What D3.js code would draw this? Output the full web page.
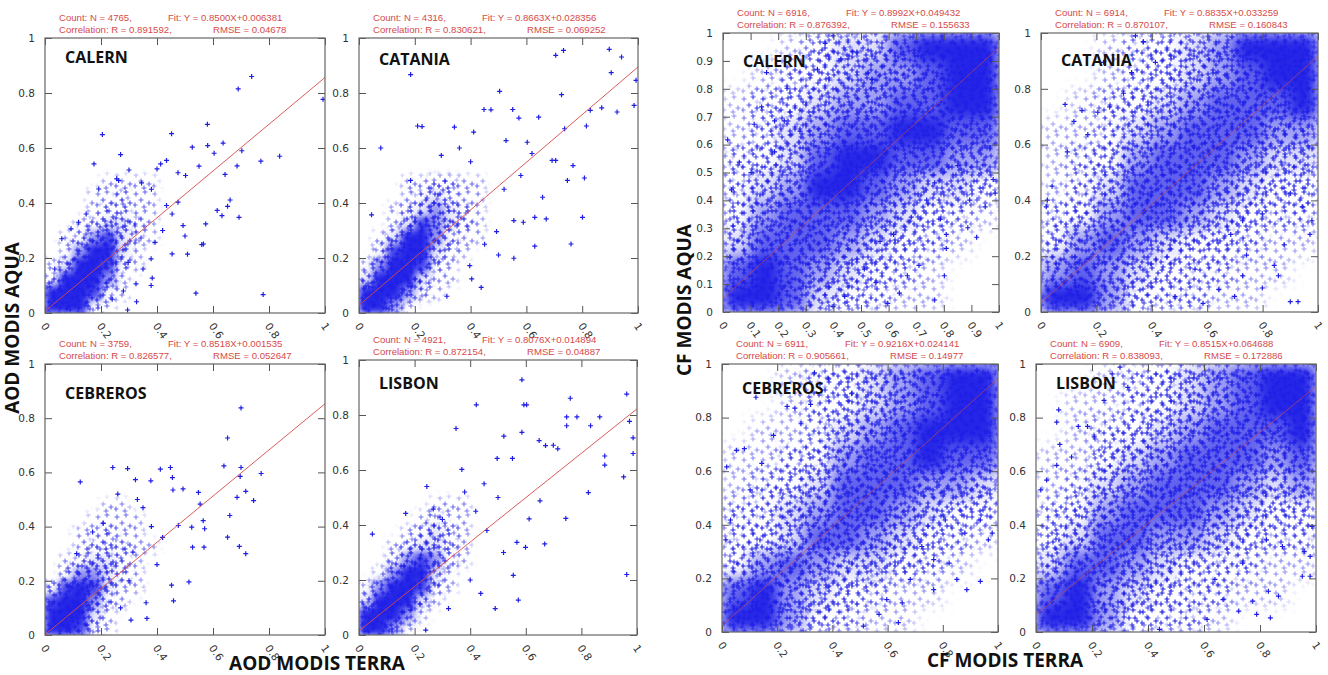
<!DOCTYPE html>
<html>
<head>
<meta charset="utf-8">
<script src="https://cdn.jsdelivr.net/npm/d3@7"></script>
<style>
  body { margin: 0; background: #fff; }
  svg { display: block; }
</style>
</head>
<body>
<div id="chart"></div>
<script>
// values
var sites = ["CALERN", "CATANIA", "CEBREROS", "LISBON"];

var aodCount = [4765, 4316, 3759, 4921];
var aodSlope = [0.8500, 0.8663, 0.8518, 0.8076];
var aodIntercept = [0.006381, 0.028356, 0.001535, 0.014894];
var aodR = ["0.891592", "0.830621", "0.826577", "0.872154"];
var aodRmse = ["0.04678", "0.069252", "0.052647", "0.04887"];

var cfCount = [6916, 6914, 6911, 6909];
var cfSlope = [0.8992, 0.8835, 0.9216, 0.8515];
var cfIntercept = [0.049432, 0.033259, 0.024141, 0.064688];
var cfR = ["0.876392", "0.870107", "0.905661", "0.838093"];
var cfRmse = ["0.155633", "0.160843", "0.14977", "0.172886"];

var ticksCoarse = [0, 0.2, 0.4, 0.6, 0.8, 1];
var ticksFine = [0, 0.1, 0.2, 0.3, 0.4, 0.5, 0.6, 0.7, 0.8, 0.9, 1];

// how crowded the cloud is (0-9), rows from the top
// AOD grids cover [0,0.5] x [0,0.5], CF grids cover [0,1] x [0,1]
var aodCalernDens = ["0000111100","0001121100","0001221100","0012332100","0124532100",
                     "0146631000","1378521000","2698410000","6995210000","9962100000"];
var aodCataniaDens = ["0001122110","0001232110","0012343210","0013543210","0136642110",
                      "0257632100","1487521000","3797311000","7984210000","8841000000"];
var aodCebrerosDens = ["0000110000","0001111000","0011211000","0012221100","0123321000",
                       "0244321000","2565311000","5874210000","8973100000","9952100000"];
var aodLisbonDens = ["0000011100","0000121100","0001232100","0012332100","0024542100",
                     "0147631000","1488521000","3897310000","8984100000","9841000000"];

var cfCalernDens = ["0013446789","0123455679","1234556678","1245667766","2346776655",
                    "2457765443","3566654321","4666543210","6765432100","9864321100"];
var cfCataniaDens = ["0012345789","0012345678","0123456667","1124566655","1235666544",
                     "1246665433","2356654322","3565433211","5654322110","9753221100"];
var cfCebrerosDens = ["0012345689","0012345689","0112456778","1123566766","1234666554",
                      "2245665433","2346654321","3565443210","6754321100","9853211000"];
var cfLisbonDens = ["0012345689","0112345678","0123456667","1134566656","1245666545",
                    "2356665433","3466554322","4665432211","6754322110","9753221000"];

// single crosses readable outside the crowded cloud, [terra, aqua]
var aodCalernPts = [[0.738,0.86],[0.69,0.815],[0.993,0.777],[0.205,0.649],[0.452,0.652],[0.58,0.686],
  [0.175,0.542],[0.27,0.576],[0.526,0.603],[0.581,0.609],[0.636,0.618],[0.604,0.581],[0.703,0.59],
  [0.771,0.552],[0.838,0.57],[0.686,0.535],[0.643,0.504],[0.192,0.451],[0.475,0.51],[0.55,0.534],
  [0.661,0.411],[0.652,0.388],[0.615,0.373],[0.632,0.354],[0.693,0.348],[0.574,0.324],[0.566,0.251],
  [0.56,0.249],[0.509,0.214],[0.454,0.215],[0.539,0.072],[0.779,0.067],[0.295,0.011],[0.327,0.041],
  [0.383,0.127],[0.379,0.1],[0.147,0.36],[0.263,0.482],[0.297,0.184],[0.493,0.318],[0.5,0.28],
  [0.035,0.16],[0.093,0.306],[0.256,0.488],[0.345,0.473],[0.413,0.542],[0.434,0.555],[0.4,0.524],
  [0.502,0.5],[0.475,0.403],[0.434,0.391],[0.454,0.36],[0.393,0.257],[0.379,0.197],[0.325,0.106],
  [0.06,0.27],[0.12,0.33],[0.3,0.52],[0.38,0.45],[0.42,0.3],[0.35,0.16],[0.28,0.08],[0.24,0.05]];
var aodCataniaPts = [[0.185,0.867],[0.705,0.937],[0.733,0.955],[0.897,0.959],[0.941,0.931],[0.904,0.874],
  [0.993,0.846],[0.726,0.794],[0.504,0.806],[0.986,0.755],[0.925,0.731],[0.87,0.746],[0.829,0.737],
  [0.448,0.74],[0.473,0.739],[0.551,0.74],[0.815,0.68],[0.737,0.67],[0.644,0.712],[0.573,0.709],
  [0.21,0.68],[0.226,0.678],[0.078,0.6],[0.342,0.676],[0.767,0.536],[0.747,0.482],[0.808,0.491],
  [0.801,0.348],[0.76,0.251],[0.63,0.243],[0.555,0.199],[0.438,0.093],[0.315,0.061],[0.671,0.342],
  [0.63,0.348],[0.692,0.555],[0.705,0.555],[0.658,0.421],[0.589,0.33],[0.555,0.336],[0.493,0.296],
  [0.045,0.357],[0.185,0.482],[0.295,0.573],[0.411,0.658],[0.603,0.621],[0.527,0.627],[0.404,0.124],
  [0.5,0.211],[0.397,0.172],[0.36,0.6],[0.4,0.55],[0.58,0.5],[0.52,0.45],[0.45,0.25],[0.62,0.58]];
var aodCebrerosPts = [[0.70,0.838],[0.652,0.727],[0.126,0.565],[0.242,0.618],[0.295,0.614],[0.412,0.612],
  [0.448,0.618],[0.323,0.573],[0.26,0.52],[0.378,0.569],[0.455,0.581],[0.493,0.539],[0.457,0.535],
  [0.548,0.526],[0.639,0.624],[0.7,0.618],[0.772,0.596],[0.697,0.585],[0.717,0.53],[0.745,0.496],
  [0.686,0.508],[0.554,0.483],[0.66,0.441],[0.565,0.422],[0.524,0.398],[0.57,0.392],[0.476,0.404],
  [0.652,0.361],[0.694,0.327],[0.717,0.3],[0.568,0.324],[0.527,0.324],[0.452,0.184],[0.514,0.196],
  [0.459,0.126],[0.361,0.119],[0.364,0.061],[0.307,0.055],[0.113,0.3],[0.208,0.412],[0.314,0.306],
  [0.35,0.47],[0.38,0.4],[0.42,0.36],[0.4,0.26],[0.3,0.2],[0.27,0.1],[0.17,0.38],[0.33,0.5]];
var aodLisbonPts = [[0.586,0.928],[0.593,0.837],[0.603,0.837],[0.422,0.837],[0.76,0.861],[0.963,0.876],
  [0.784,0.793],[0.747,0.793],[0.866,0.793],[0.747,0.761],[0.833,0.761],[0.973,0.777],[0.986,0.717],
  [0.986,0.66],[0.884,0.651],[0.884,0.618],[0.952,0.575],[0.349,0.751],[0.521,0.723],[0.586,0.737],
  [0.648,0.707],[0.671,0.689],[0.699,0.69],[0.715,0.677],[0.497,0.642],[0.552,0.642],[0.37,0.602],
  [0.244,0.54],[0.825,0.518],[0.744,0.424],[0.668,0.331],[0.963,0.22],[0.573,0.127],[0.49,0.096],
  [0.048,0.367],[0.168,0.442],[0.267,0.458],[0.651,0.488],[0.612,0.422],[0.599,0.319],[0.568,0.337],
  [0.438,0.151],[0.555,0.217],[0.322,0.096],[0.24,0.018],[0.45,0.55],[0.5,0.5],[0.42,0.45],
  [0.46,0.38],[0.38,0.52],[0.3,0.42],[0.52,0.3],[0.4,0.2]];

var cfCalernPts = [[0.158,0.858],[0.232,0.802],[0.14,0.735],[0.113,0.673],[0.187,0.685],[0.222,0.685],
  [0.059,0.537],[0.017,0.617],[0.031,0.438],[0.37,0.963],[0.399,0.99],[0.342,0.87],[0.427,0.907],
  [0.279,0.648],[0.187,0.574],[0.102,0.5],[0.54,0.833],[0.47,0.932],[0.887,0.302],[0.919,0.268],
  [0.809,0.278],[0.788,0.333],[0.809,0.228],[0.802,0.13],[0.767,0.043],[0.71,0.167],[0.668,0.13],
  [0.639,0.068],[0.597,0.031],[0.986,0.426],[0.979,0.475],[0.894,0.401],[0.95,0.377],[0.738,0.401],
  [0.682,0.34],[0.569,0.253],[0.512,0.154],[0.441,0.056],[0.399,0.019],[0.851,0.525],[0.767,0.463],
  [0.618,0.278],[0.554,0.105]];
var cfCataniaPts = [[0.087,0.744],[0.119,0.683],[0.148,0.722],[0.095,0.574],[0.023,0.401],[0.04,0.451],
  [0.019,0.377],[0.248,0.735],[0.205,0.716],[0.298,0.784],[0.341,0.99],[0.37,0.969],[0.413,0.895],
  [0.169,0.636],[0.226,0.895],[0.327,0.858],[0.9,0.037],[0.928,0.037],[0.971,0.278],[0.978,0.327],
  [0.842,0.167],[0.799,0.086],[0.857,0.13],[0.742,0.204],[0.728,0.13],[0.699,0.056],[0.642,0.08],
  [0.585,0.031],[0.878,0.241],[0.943,0.377],[0.9,0.426],[0.799,0.352],[0.685,0.278],[0.556,0.154],
  [0.484,0.056],[0.728,0.327]];
var cfCebrerosPts = [[0.123,0.876],[0.236,0.842],[0.264,0.835],[0.321,0.849],[0.385,0.944],[0.335,0.967],
  [0.187,0.734],[0.052,0.678],[0.081,0.684],[0.017,0.616],[0.144,0.629],[0.031,0.418],[0.014,0.344],
  [0.102,0.53],[0.286,0.777],[0.47,0.889],[0.887,0.158],[0.936,0.189],[0.965,0.344],[0.979,0.369],
  [0.823,0.257],[0.851,0.196],[0.767,0.158],[0.653,0.109],[0.639,0.035],[0.569,0.066],[0.512,0.022],
  [0.767,0.27],[0.88,0.369],[0.682,0.196],[0.597,0.121],[0.724,0.319],[0.936,0.418],[0.809,0.418]];
var cfLisbonPts = [[0.081,0.829],[0.074,0.783],[0.085,0.7],[0.074,0.622],[0.151,0.767],[0.184,0.767],
  [0.017,0.53],[0.038,0.567],[0.3,0.988],[0.243,0.864],[0.208,0.728],[0.328,0.913],[0.272,0.963],
  [0.127,0.653],[0.837,0.053],[0.788,0.066],[0.724,0.078],[0.866,0.134],[0.83,0.152],[0.774,0.115],
  [0.951,0.208],[0.979,0.208],[0.958,0.301],[0.979,0.282],[0.986,0.394],[0.88,0.319],[0.823,0.344],
  [0.668,0.121],[0.611,0.047],[0.441,0.01],[0.738,0.257],[0.639,0.196]];

var aodDensity = [aodCalernDens, aodCataniaDens, aodCebrerosDens, aodLisbonDens];
var cfDensity = [cfCalernDens, cfCataniaDens, cfCebrerosDens, cfLisbonDens];
var aodPoints = [aodCalernPts, aodCataniaPts, aodCebrerosPts, aodLisbonPts];
var cfPoints = [cfCalernPts, cfCataniaPts, cfCebrerosPts, cfLisbonPts];

// layout of the eight boxes (pixels)
var aodBoxes = [
  {x0: 45, x1: 325, y0: 38, y1: 313, tdy: 25},
  {x0: 359, x1: 638, y0: 38, y1: 313, tdy: 27},
  {x0: 45, x1: 325, y0: 364, y1: 635, tdy: 35},
  {x0: 359, x1: 637, y0: 360, y1: 635, tdy: 29}
];
var cfBoxes = [
  {x0: 723, x1: 999, y0: 33, y1: 312, tdy: 34},
  {x0: 1041, x1: 1318, y0: 33, y1: 312, tdy: 33},
  {x0: 722, x1: 998, y0: 364, y1: 632, tdy: 30},
  {x0: 1036, x1: 1316, y0: 364, y1: 632, tdy: 25}
];

var W = 1328, H = 675;
var blue = "#1e1ee6";
var red = "#d64a4a";
var fmt = d3.format("~g");

var svg = d3.select("#chart").append("svg")
  .attr("width", W)
  .attr("height", H)
  .style("font-family", "'DejaVu Sans', sans-serif");

var defs = svg.append("defs");

// three sparse cross textures; stacked they fill in as the cloud gets crowded
var textures = [
  {size: 19, at: [[3,4],[12,2],[8,10],[16,13],[2,15],[11,17]]},
  {size: 23, at: [[6,6],[17,4],[1,11],[13,14],[20,19],[8,20],[21,10]]},
  {size: 29, at: [[4,1],[14,8],[25,3],[9,18],[20,22],[2,25],[27,15],[16,27]]}
];
textures.forEach(function(t, k) {
  var p = defs.append("pattern")
    .attr("id", "crossTex" + k)
    .attr("patternUnits", "userSpaceOnUse")
    .attr("width", t.size).attr("height", t.size);
  t.at.forEach(function(c) {
    p.append("path")
      .attr("d", "M" + (c[0] - 2.5) + "," + c[1] + "h5M" + c[0] + "," + (c[1] - 2.5) + "v5")
      .attr("stroke", blue)
      .attr("stroke-width", 1.1);
  });
});

defs.append("filter").attr("id", "blurA")
  .attr("x", "-20%").attr("y", "-20%").attr("width", "140%").attr("height", "140%")
  .append("feGaussianBlur").attr("stdDeviation", 3.5);
defs.append("filter").attr("id", "blurC")
  .attr("x", "-20%").attr("y", "-20%").attr("width", "140%").attr("height", "140%")
  .append("feGaussianBlur").attr("stdDeviation", 7);

function clamp(v) { return Math.max(0, Math.min(1, v)); }

// mask opacity of each layer against the density value
var layers = [
  {fill: "url(#crossTex0)", op: function(d) { return clamp(d / 2); }},
  {fill: "url(#crossTex1)", op: function(d) { return clamp((d - 1.5) / 1.5); }},
  {fill: "url(#crossTex2)", op: function(d) { return clamp((d - 3) / 1.5); }},
  {fill: blue, op: function(d) { return clamp((d - 3.5) / 3.5) * 0.97; }}
];

function drawPanel(id, box, opt) {
  var xs = d3.scaleLinear().domain([0, 1]).range([box.x0, box.x1]);
  var ys = d3.scaleLinear().domain([0, 1]).range([box.y1, box.y0]);
  var g = svg.append("g");

  defs.append("clipPath").attr("id", "clip" + id)
    .append("rect")
    .attr("x", box.x0).attr("y", box.y0)
    .attr("width", box.x1 - box.x0).attr("height", box.y1 - box.y0);

  // crowded cloud
  var n = opt.density.length;
  var step = opt.extent / n;
  var cells = [];
  opt.density.forEach(function(row, r) {
    row.split("").forEach(function(ch, c) {
      var d = +ch;
      if (d > 0) cells.push({x: c * step, y: (n - 1 - r) * step, d: d * opt.gain});
    });
  });

  var cloud = g.append("g").attr("clip-path", "url(#clip" + id + ")");

  layers.forEach(function(L, k) {
    var m = defs.append("mask").attr("id", "m" + id + k)
      .attr("maskUnits", "userSpaceOnUse")
      .attr("x", box.x0 - 30).attr("y", box.y0 - 30)
      .attr("width", box.x1 - box.x0 + 60).attr("height", box.y1 - box.y0 + 60);
    m.append("g").attr("filter", opt.blur)
      .selectAll("rect").data(cells).enter().append("rect")
      .attr("x", function(d) { return xs(d.x); })
      .attr("y", function(d) { return ys(d.y + step); })
      .attr("width", xs(step) - xs(0) + 0.5)
      .attr("height", ys(0) - ys(step) + 0.5)
      .attr("fill", "#fff")
      .attr("fill-opacity", function(d) { return L.op(d.d); });
    cloud.append("rect")
      .attr("x", box.x0).attr("y", box.y0)
      .attr("width", box.x1 - box.x0).attr("height", box.y1 - box.y0)
      .attr("fill", L.fill)
      .attr("mask", "url(#m" + id + k + ")");
  });

  // single crosses
  cloud.selectAll("path.pt").data(opt.points).enter().append("path")
    .attr("class", "pt")
    .attr("transform", function(d) { return "translate(" + xs(d[0]) + "," + ys(d[1]) + ")"; })
    .attr("d", "M-2.5,0H2.5M0,-2.5V2.5")
    .attr("stroke", blue)
    .attr("stroke-width", 1.2);

  // fitted line
  cloud.append("line")
    .attr("x1", xs(0)).attr("y1", ys(opt.b))
    .attr("x2", xs(1)).attr("y2", ys(opt.a + opt.b))
    .attr("stroke", red)
    .attr("stroke-opacity", opt.lineOpacity)
    .attr("stroke-width", 1);

  // axes with inward ticks on all four sides
  var axes = [
    {ax: d3.axisBottom(xs).tickFormat(fmt), t: "translate(0," + box.y1 + ")", x: true},
    {ax: d3.axisTop(xs).tickFormat(""), t: "translate(0," + box.y0 + ")"},
    {ax: d3.axisLeft(ys).tickFormat(fmt), t: "translate(" + box.x0 + ",0)"},
    {ax: d3.axisRight(ys).tickFormat(""), t: "translate(" + box.x1 + ",0)"}
  ];
  axes.forEach(function(a) {
    var ag = g.append("g").attr("transform", a.t)
      .call(a.ax.tickValues(opt.ticks).tickSizeInner(-7).tickSizeOuter(0).tickPadding(10));
    ag.select(".domain").remove();
    ag.selectAll("line").attr("stroke", "#555");
    ag.selectAll("text")
      .attr("fill", "#333")
      .style("font-size", "10.5px")
      .style("font-family", "'DejaVu Sans', sans-serif");
    if (a.x) {
      ag.selectAll("text")
        .attr("y", 0).attr("dy", "0.35em")
        .attr("text-anchor", "start")
        .attr("transform", "translate(-2,11) rotate(55)");
    }
  });

  g.append("rect")
    .attr("x", box.x0).attr("y", box.y0)
    .attr("width", box.x1 - box.x0).attr("height", box.y1 - box.y0)
    .attr("fill", "none")
    .attr("stroke", "#666")
    .attr("stroke-width", 1.2);

  // site name
  g.append("text")
    .attr("x", box.x0 + 20).attr("y", box.y0 + box.tdy)
    .text(opt.name)
    .style("font-family", "'Liberation Sans Narrow', 'Open Sans', sans-serif")
    .style("font-weight", "bold")
    .style("font-size", "16px")
    .attr("fill", "#111");

  // statistics above the box
  var st = g.append("g")
    .style("font-family", "'Liberation Sans', Arial, sans-serif")
    .style("font-size", "9.6px")
    .attr("fill", red);
  st.append("text").attr("x", box.x0 + 14).attr("y", box.y0 - 17)
    .text("Count: N = " + opt.count + ",");
  st.append("text").attr("x", box.x0 + 123).attr("y", box.y0 - 17)
    .text("Fit: Y = " + opt.a.toFixed(4) + "X+" + opt.b.toFixed(6));
  st.append("text").attr("x", box.x0 + 14).attr("y", box.y0 - 5)
    .text("Correlation: R = " + opt.r + ",");
  st.append("text").attr("x", box.x0 + 168).attr("y", box.y0 - 5)
    .text("RMSE = " + opt.rmse);
}

sites.forEach(function(name, i) {
  drawPanel("a" + i, aodBoxes[i], {
    name: name, density: aodDensity[i], extent: 0.5, blur: "url(#blurA)", gain: 1.3,
    points: aodPoints[i], a: aodSlope[i], b: aodIntercept[i], ticks: ticksCoarse,
    count: aodCount[i], r: aodR[i], rmse: aodRmse[i], lineOpacity: 0.9
  });
  drawPanel("c" + i, cfBoxes[i], {
    name: name, density: cfDensity[i], extent: 1, blur: "url(#blurC)", gain: 1,
    points: cfPoints[i], a: cfSlope[i], b: cfIntercept[i], ticks: i === 0 ? ticksFine : ticksCoarse,
    count: cfCount[i], r: cfR[i], rmse: cfRmse[i], lineOpacity: 0.6
  });
});

// axis titles
var titles = [
  {text: "AOD MODIS AQUA", x: 19, y: 328, rot: true},
  {text: "AOD MODIS TERRA", x: 317, y: 670},
  {text: "CF MODIS AQUA", x: 691, y: 300, rot: true},
  {text: "CF MODIS TERRA", x: 1005, y: 667}
];
svg.selectAll("text.axtitle").data(titles).enter().append("text")
  .attr("class", "axtitle")
  .attr("text-anchor", "middle")
  .attr("transform", function(d) {
    return "translate(" + d.x + "," + d.y + ")" + (d.rot ? " rotate(-90)" : "");
  })
  .style("font-family", "'Liberation Sans Narrow', 'Open Sans', sans-serif")
  .style("font-weight", "bold")
  .style("font-size", "19px")
  .attr("fill", "#111")
  .text(function(d) { return d.text; });
</script>
</body>
</html>
